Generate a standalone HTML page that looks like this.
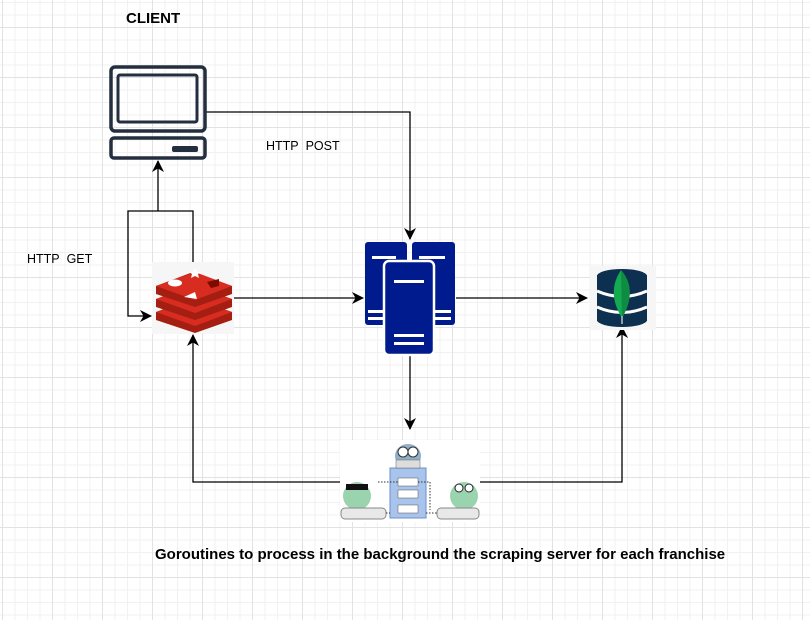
<!DOCTYPE html>
<html><head><meta charset="utf-8"><style>
html,body{margin:0;padding:0;}
body{width:810px;height:620px;overflow:hidden;position:relative;font-family:"Liberation Sans",Arial,sans-serif;
background-color:#fff;
background-image:linear-gradient(#e2e2e2 1px,transparent 1px),linear-gradient(90deg,#e2e2e2 1px,transparent 1px),linear-gradient(#f1f1f1 1px,transparent 1px),linear-gradient(90deg,#f1f1f1 1px,transparent 1px);
background-size:50px 50px,50px 50px,12.5px 12.5px,12.5px 12.5px;
background-position:0 27px,2px 0,0 2px,2px 0;}
.t{position:absolute;white-space:nowrap;color:#000;}
svg{position:absolute;left:0;top:0;}
</style></head><body>
<svg width="810" height="620" viewBox="0 0 810 620">
<defs><marker id="a" markerWidth="12" markerHeight="12" refX="11" refY="6" orient="auto" markerUnits="userSpaceOnUse"><path d="M0,0 L12,6 L0,12 L3.5,6z" fill="#000"/></marker></defs>
<g fill="none" stroke="#000" stroke-width="1.3">
<path d="M206,112 H410 V239" marker-end="url(#a)"/>
<path d="M193,262 V211 H128 V316 H151" marker-end="url(#a)"/>
<path d="M158,211 V161" marker-end="url(#a)"/>
<path d="M233,298 H363" marker-end="url(#a)"/>
<path d="M456,298 H587" marker-end="url(#a)"/>
<path d="M410,355 V429" marker-end="url(#a)"/>
<path d="M340,482 H193 V335" marker-end="url(#a)"/>
<path d="M480,482 H622 V327" marker-end="url(#a)"/>
</g>
<!-- monitor -->
<g fill="none" stroke="#232f3e">
<rect x="111" y="67" width="94" height="64" rx="4" stroke-width="3.5"/>
<rect x="118" y="75" width="79" height="47" rx="2" stroke-width="3"/>
<rect x="111" y="138" width="94" height="20" rx="3" stroke-width="3.5"/>
</g>
<rect x="172" y="146" width="26" height="6" rx="2" fill="#232f3e"/>
<!-- redis -->
<rect x="152" y="262" width="82" height="72" fill="#f6f6f6"/>
<g>
<path d="M156,312 L193,298 L232,312 L232,320 L195,333 L156,320z" fill="#a41e11"/>
<path d="M156,312 L195,326 L232,312 L195,300z" fill="#d82c20"/>
<path d="M156,299 L193,285 L232,299 L232,307 L195,320 L156,307z" fill="#a41e11"/>
<path d="M156,299 L195,313 L232,299 L195,287z" fill="#d82c20"/>
<path d="M156,286 L193,272 L232,286 L232,294 L195,307 L156,294z" fill="#a41e11"/>
<path d="M156,286 L195,300 L232,286 L195,272z" fill="#d82c20"/>
<ellipse cx="175" cy="283" rx="7" ry="3.5" fill="#fff"/>
<path d="M193,272 l2,-4 l2,4 l4,0 l-3,2 l1,4 l-4,-2 l-4,2 l1,-4 l-3,-2z" fill="#fff"/>
<path d="M207,282 l12,-3 l0,7 l-8,2z" fill="#7a0c00"/>
<path d="M184,297 l11,-5 l2,7z" fill="#fff"/>
</g>
<!-- server -->
<g fill="#001b8e">
<rect x="365" y="242" width="42" height="83" rx="3"/>
<rect x="412" y="242" width="43" height="83" rx="3"/>
<rect x="384" y="261" width="50" height="94" rx="5" stroke="#fff" stroke-width="2.5"/>
</g>
<g fill="#fff">
<rect x="372" y="256" width="24" height="3"/><rect x="419" y="256" width="26" height="3"/>
<rect x="394" y="280" width="30" height="3"/><rect x="394" y="334" width="30" height="3"/><rect x="394" y="342" width="30" height="3"/>
<rect x="368" y="310" width="16" height="3"/><rect x="368" y="317" width="16" height="3"/>
<rect x="435" y="310" width="16" height="3"/><rect x="435" y="317" width="16" height="3"/>
</g>
<!-- mongo -->
<rect x="590" y="266" width="66" height="64" fill="#f6f6f6"/>
<g fill="#0e3050">
<rect x="597" y="275" width="50" height="46"/>
<ellipse cx="622" cy="276" rx="25" ry="7"/>
<ellipse cx="622" cy="320" rx="25" ry="7"/>
</g>
<path d="M597,291 Q622,302 647,291" stroke="#fff" stroke-width="3" fill="none"/>
<path d="M597,307 Q622,318 647,307" stroke="#fff" stroke-width="3" fill="none"/>
<path d="M621,270 Q638,290 622,318 Q606,292 621,270z" fill="#13aa52"/>
<path d="M621,270 Q638,290 622,318z" fill="#0d8c42"/>
<line x1="622" y1="316" x2="622" y2="324" stroke="#b8c4c2" stroke-width="1.5"/>
<!-- goroutines -->
<rect x="340" y="440" width="140" height="82" fill="#fff"/>
<rect x="390" y="468" width="36" height="50" fill="#a9c4ec" stroke="#6b8fc7"/>
<rect x="398" y="478" width="20" height="8" fill="#fff" stroke="#555" stroke-width="0.5"/>
<rect x="398" y="490" width="20" height="8" fill="#fff" stroke="#555" stroke-width="0.5"/>
<rect x="398" y="505" width="20" height="8" fill="#fff" stroke="#555" stroke-width="0.5"/>
<ellipse cx="408" cy="456" rx="13" ry="12" fill="#8fb0c8"/>
<circle cx="403" cy="452" r="5" fill="#fff" stroke="#333"/><circle cx="413" cy="452" r="5" fill="#fff" stroke="#333"/>
<rect x="396" y="460" width="24" height="8" fill="#ddd" stroke="#666" stroke-width="0.5"/>
<ellipse cx="357" cy="496" rx="14" ry="14" fill="#9ad4ae"/>
<rect x="346" y="484" width="22" height="6" fill="#111"/>
<ellipse cx="464" cy="496" rx="14" ry="14" fill="#9ad4ae"/>
<circle cx="459" cy="488" r="4" fill="#fff" stroke="#222"/><circle cx="469" cy="488" r="4" fill="#fff" stroke="#222"/>
<rect x="341" y="508" width="45" height="11" rx="4" fill="#e8e8e8" stroke="#888"/>
<rect x="437" y="508" width="42" height="11" rx="4" fill="#e8e8e8" stroke="#888"/>
<path d="M386,513 H390 M426,513 H437 M378,482 H398 M418,482 H430 V510" stroke="#333" stroke-dasharray="1.5,1.5" fill="none"/>
</svg>
<div class="t" style="left:126px;top:10px;font-size:15px;font-weight:bold;">CLIENT</div>
<div class="t" style="left:266px;top:139px;font-size:12.5px;">HTTP&nbsp; POST</div>
<div class="t" style="left:27px;top:252px;font-size:12.5px;">HTTP&nbsp; GET</div>
<div class="t" style="left:155px;top:546px;font-size:15px;font-weight:bold;">Goroutines to process in the background the scraping server for each franchise</div>
</body></html>
